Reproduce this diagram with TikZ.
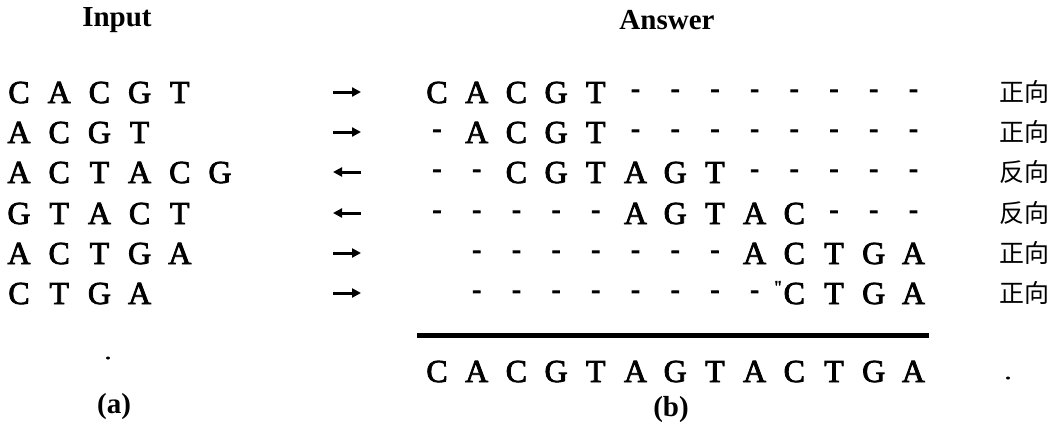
\documentclass[tikz,border=0pt]{standalone}
\usepackage{fontspec}
\setmainfont{Liberation Serif}
\newfontfamily\seqfont{Liberation Serif}[FakeBold=2.5]
\newfontfamily\dashfont{Liberation Serif}[FakeBold=3.5]
\newfontfamily\cjkfont{Noto Sans CJK SC}
\usetikzlibrary{arrows.meta}

% one aligned row of the answer block: name, baseline y, tokens
% (x = empty cell, - = gap dash, anything else = base letter)
\newcommand\answerrow[3]{%
  \foreach \c [count=\k from 0] in {#3} {%
    \if\c x\else
      \if\c -\node[dashmark] (#1-\k) at ({437+39.7*\k}, #2) {-};%
      \else\node[letter] (#1-\k) at ({437+39.7*\k}, #2) {\c};\fi
    \fi
  }}
% one input read: name, baseline y, tokens
\newcommand\inputrow[3]{%
  \foreach \c [count=\k from 0] in {#3} {%
    \node[letter] (#1-\k) at ({19+40.2*\k}, #2) {\c};
  }}

\begin{document}
\begin{tikzpicture}[x=1pt,y=-1pt,
  letter/.style={font=\seqfont\fontsize{32}{36}\selectfont, inner sep=0pt, outer sep=0pt, anchor=base},
  dashmark/.style={font=\dashfont\fontsize{26}{30}\selectfont, inner sep=0pt, outer sep=0pt, anchor=base, yshift=6pt},
  head/.style={font=\bfseries\fontsize{29}{32}\selectfont, inner sep=0pt, anchor=center},
  dirlabel/.style={font=\cjkfont\fontsize{25}{28}\selectfont, inner sep=0pt, anchor=center},
  readarrow/.style={line width=3pt, -{Triangle[length=9pt,width=9pt]}},
  sumbar/.style={line width=5pt},
  speck/.style={fill=black}]
\useasboundingbox (0,0) rectangle (1064,423);

% column headings
\node[head] (hin) at (117,20) {Input};
\node[head] (hans) at (667,20) {Answer};

% input reads
\inputrow{in1}{103}{C,A,C,G,T}
\inputrow{in2}{143}{A,C,G,T}
\inputrow{in3}{183}{A,C,T,A,C,G}
\inputrow{in4}{224}{G,T,A,C,T}
\inputrow{in5}{264}{A,C,T,G,A}
\inputrow{in6}{304}{C,T,G,A}

% orientation arrows
\foreach \i/\y in {1/92,2/132,3/172,4/213,5/253,6/293} {
  \coordinate (al\i) at (333,\y);
  \coordinate (ar\i) at (361,\y);
}
\draw[readarrow] (al1) -- (ar1);
\draw[readarrow] (al2) -- (ar2);
\draw[readarrow] (ar3) -- (al3);
\draw[readarrow] (ar4) -- (al4);
\draw[readarrow] (al5) -- (ar5);
\draw[readarrow] (al6) -- (ar6);

% aligned reads
\answerrow{an1}{103}{C,A,C,G,T,-,-,-,-,-,-,-,-}
\answerrow{an2}{143}{-,A,C,G,T,-,-,-,-,-,-,-,-}
\answerrow{an3}{183}{-,-,C,G,T,A,G,T,-,-,-,-,-}
\answerrow{an4}{224}{-,-,-,-,-,A,G,T,A,C,-,-,-}
\answerrow{an5}{264}{x,-,-,-,-,-,-,-,A,C,T,G,A}
\answerrow{an6}{304}{x,-,-,-,-,-,-,-,-,C,T,G,A}
\node[font=\seqfont\fontsize{18}{20}\selectfont, inner sep=0pt] (tick) at (778,287) {''};

% strand labels
\node[dirlabel] (d1) at (1024,92) {正向};
\node[dirlabel] (d2) at (1024,132) {正向};
\node[dirlabel] (d3) at (1024,172) {反向};
\node[dirlabel] (d4) at (1024,213) {反向};
\node[dirlabel] (d5) at (1024,253) {正向};
\node[dirlabel] (d6) at (1024,293) {正向};

% consensus
\coordinate (barl) at (417,335);
\coordinate (barr) at (929,335);
\draw[sumbar] (barl) -- (barr);
\answerrow{cons}{382}{C,A,C,G,T,A,G,T,A,C,T,G,A}

% captions
\node[head] (capa) at (114,407) {(a)};
\node[head] (capb) at (671,410) {(b)};

% stray specks
\fill[speck] (108,358) ellipse (2 and 1.5);
\fill[speck] (1008,378) ellipse (2 and 1.5);
\end{tikzpicture}
\end{document}
